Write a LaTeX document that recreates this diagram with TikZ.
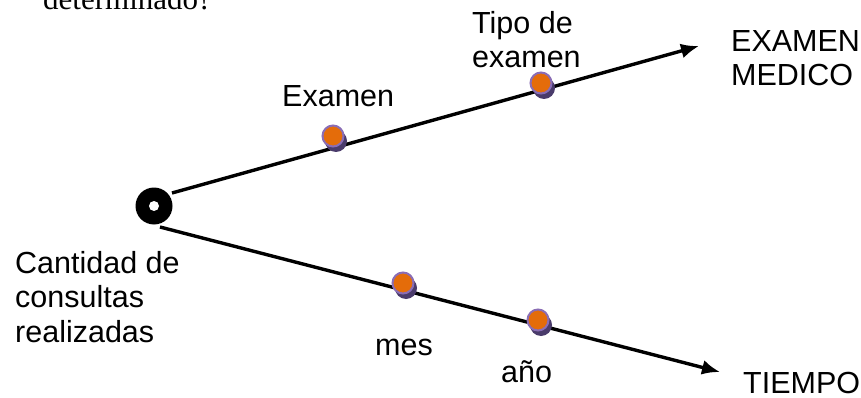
\documentclass[tikz,border=0pt]{standalone}
\usepackage{fontspec}
\setmainfont{Liberation Sans}
\newfontfamily\serifface{Liberation Serif}
\usetikzlibrary{arrows.meta}
\definecolor{porange}{HTML}{E46C0A}
\definecolor{prim}{HTML}{8A6DB5}
\definecolor{pdark}{HTML}{4A3B6B}
\tikzset{
  lbl/.style={inner sep=0pt, anchor=base west, align=left, font=\fontsize{30.5}{34.5}\selectfont},
  axis/.style={line width=3.4pt, -{Latex[length=18pt,width=15pt]}},
  puck/.pic={
    \fill[pdark] (3,5) circle (11);
    \fill[pdark] (-10,2) -- (7,-8) -- (13,3) -- (0,13) -- cycle;
    \draw[prim, line width=2pt, fill=porange] (0,0) circle (10.5);
  }
}
\begin{document}
\begin{tikzpicture}[x=1pt,y=-1pt]
\useasboundingbox (0,0) rectangle (861,398);
\fill[white] (0,0) rectangle (861,398);
\begin{scope}
\clip (0,0) rectangle (861,398);
\node[inner sep=0pt, anchor=base west, font=\serifface\fontsize{31}{36}\selectfont] (q) at (43,10) {determinado?};
\end{scope}
% origin
\node[circle, fill=black, minimum size=37pt, inner sep=0pt] (o) at (154,206) {};
\fill[white] (o.center) circle (5);
% axes
\coordinate (s1) at (172,193);
\coordinate (e1) at (699,46);
\coordinate (s2) at (160,227);
\coordinate (e2) at (720,372);
\draw[axis] (s1) -- (e1);
\draw[axis] (s2) -- (e2);
% dots
\pic at (333,136) {puck};
\pic at (541,83) {puck};
\pic at (403,283) {puck};
\pic at (538,320) {puck};
% labels
\node[lbl] (tipo) at (472,68) {Tipo de\\examen};
\node[lbl] (exa) at (282,107) {Examen};
\node[lbl] (em) at (731,86) {EXAMEN\\MEDICO};
\node[lbl] (cant) at (15,342) {Cantidad de\\consultas\\realizadas};
\node[lbl] (mes) at (375,355) {mes};
\node[lbl] (anio) at (501,382) {año};
\node[lbl] (tiempo) at (743,393) {TIEMPO};
\end{tikzpicture}
\end{document}
